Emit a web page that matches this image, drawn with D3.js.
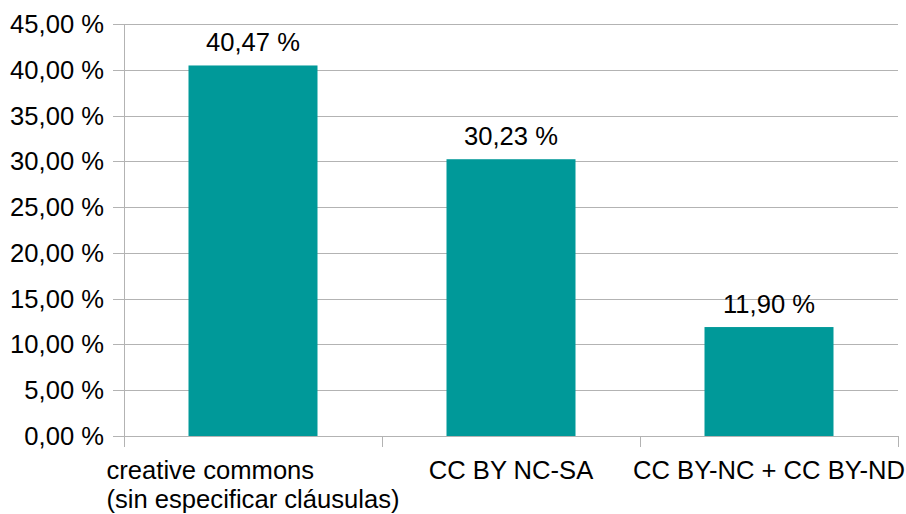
<!DOCTYPE html>
<html>
<head>
<meta charset="utf-8">
<script src="https://cdn.jsdelivr.net/npm/d3@7"></script>
<style>
  html, body { margin: 0; padding: 0; background: #fff; }
  svg text { font-family: "Liberation Sans", Arial, sans-serif; fill: #000; }
</style>
</head>
<body>
<svg id="chart" width="906" height="514"></svg>
<script>
// Licence categories (multi-line labels) and their shares in percent
const categories = [
  ["creative commons", "(sin especificar cláusulas)"],
  ["CC BY NC-SA"],
  ["CC BY-NC + CC BY-ND"]
];
const values = [40.47, 30.23, 11.90];
const yTicks = [0, 5, 10, 15, 20, 25, 30, 35, 40, 45];

const fmt = v => v.toFixed(2).replace(".", ",") + " %";
const FS = 25.6;

const svg = d3.select("#chart");
const margin = { left: 124, right: 8, top: 24, bottom: 78 };
const W = 906, H = 514;

const x = d3.scaleBand()
  .domain(d3.range(categories.length))
  .range([margin.left, W - margin.right])
  .paddingInner(0.5).paddingOuter(0.25);

const y = d3.scaleLinear()
  .domain([0, 45])
  .range([H - margin.bottom, margin.top]);

const gridColor = "#b3b3b3";

// short ticks to the left of the axis, with the percentage labels
const yAxis = d3.axisLeft(y)
  .tickValues(yTicks)
  .tickSize(11)
  .tickPadding(9)
  .tickFormat(fmt);

const gy = svg.append("g")
  .attr("transform", `translate(${margin.left},0)`)
  .call(yAxis);
gy.select(".domain").remove();
gy.selectAll(".tick line").attr("stroke", gridColor);
gy.selectAll(".tick text").attr("font-size", FS).attr("font-family", "Liberation Sans, Arial, sans-serif").attr("fill", "#000");
gy.selectAll(".tick").attr("transform", d => `translate(0,${Math.round(y(d)) + 0.5})`);

// horizontal gridlines
svg.append("g")
  .selectAll("line")
  .data(yTicks)
  .join("line")
  .attr("x1", margin.left)
  .attr("x2", W - margin.right)
  .attr("y1", d => Math.round(y(d)) + 0.5)
  .attr("y2", d => Math.round(y(d)) + 0.5)
  .attr("stroke", gridColor);

// vertical axis line
svg.append("line")
  .attr("x1", margin.left + 0.5).attr("x2", margin.left + 0.5)
  .attr("y1", y(45)).attr("y2", y(0) + 11)
  .attr("stroke", gridColor);

// category boundary ticks on the bottom axis
const step = x.step();
const bounds = d3.range(categories.length + 1).map(i => margin.left + i * step);
svg.append("g")
  .selectAll("line")
  .data(bounds)
  .join("line")
  .attr("x1", d => Math.round(d) + 0.5)
  .attr("x2", d => Math.round(d) + 0.5)
  .attr("y1", y(0))
  .attr("y2", y(0) + 11)
  .attr("stroke", gridColor);

// bars
svg.append("g")
  .selectAll("rect")
  .data(values)
  .join("rect")
  .attr("x", (d, i) => x(i))
  .attr("width", x.bandwidth())
  .attr("y", d => y(d))
  .attr("height", d => y(0) - y(d))
  .attr("fill", "#009999");

// value labels above bars
svg.append("g")
  .selectAll("text")
  .data(values)
  .join("text")
  .attr("x", (d, i) => x(i) + x.bandwidth() / 2)
  .attr("y", d => y(d) - 14)
  .attr("text-anchor", "middle")
  .attr("font-size", FS)
  .text(fmt);

// category labels: left-aligned lines in a block centred under each category
categories.forEach((lines, i) => {
  const cx = x(i) + x.bandwidth() / 2;
  const t = svg.append("text")
    .attr("font-size", FS)
    .attr("y", 479);
  lines.forEach((ln, k) => {
    t.append("tspan").attr("dy", k === 0 ? 0 : 29).text(ln);
  });
  let maxW = 0;
  t.selectAll("tspan").each(function () {
    maxW = Math.max(maxW, this.getComputedTextLength());
  });
  const left = cx - maxW / 2;
  t.selectAll("tspan").attr("x", left);
});
</script>
</body>
</html>
